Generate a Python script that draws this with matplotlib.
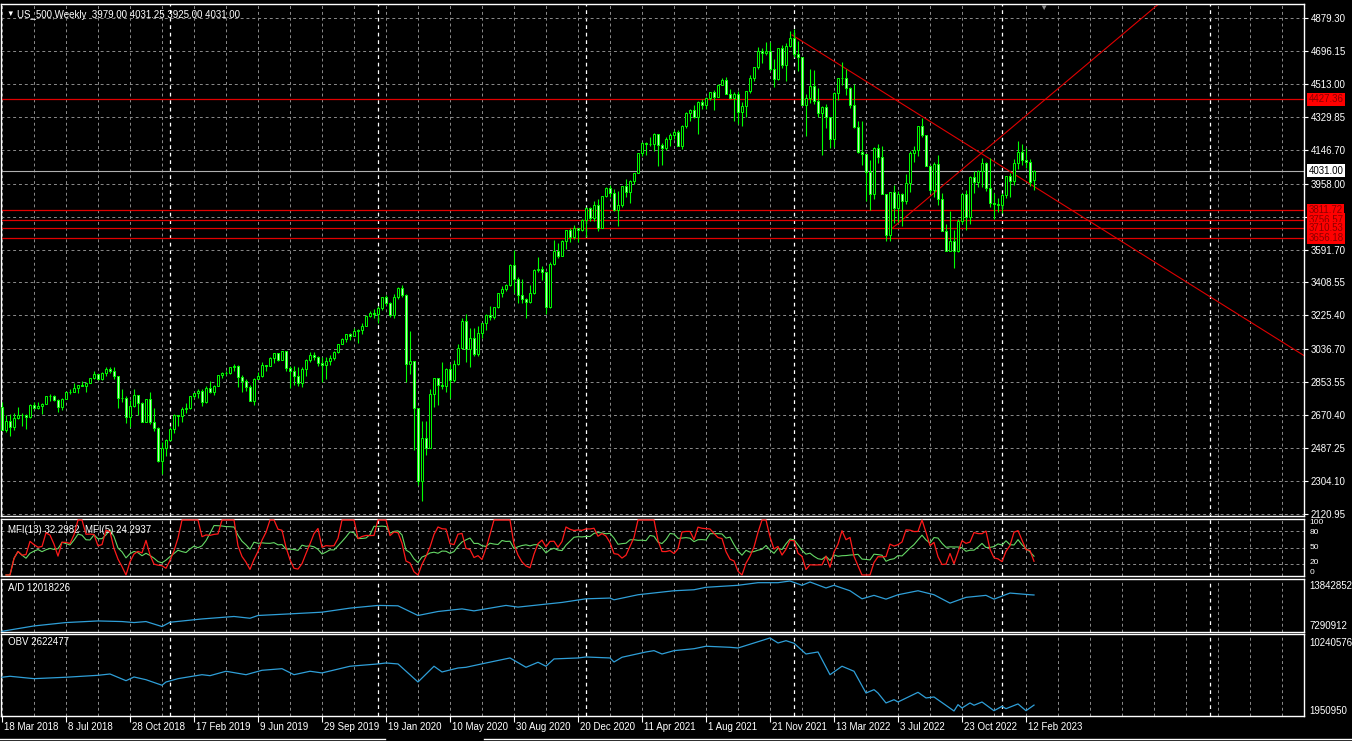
import matplotlib
matplotlib.use("Agg")
import matplotlib.pyplot as plt
import matplotlib.transforms as mtransforms
from matplotlib.lines import Line2D
import numpy as np

plt.rcParams['font.family'] = ['Liberation Sans', 'DejaVu Sans']

W, H = 1352, 741

# US_500 weekly bars, first bar = week of 18 Mar 2018, last = week of 26 Feb 2023
opens = [
    2716, 2590, 2641, 2604, 2656, 2670, 2670, 2663, 2728, 2713, 2721, 2735, 2779, 2780, 2755, 2718, 2760, 2801, 2802, 2819,
    2840, 2833, 2850, 2875, 2902, 2872, 2905, 2930, 2914, 2886, 2767, 2768, 2659, 2723, 2781, 2736, 2633, 2760, 2633, 2600, 2417,
    2486, 2532, 2596, 2671, 2665, 2707, 2708, 2776, 2793, 2804, 2743, 2822, 2800, 2834, 2893, 2907, 2905, 2940, 2946, 2881,
    2860, 2826, 2752, 2873, 2887, 2950, 2942, 2990, 3014, 2977, 3026, 2932, 2919, 2889, 2847, 2926, 2979, 3007, 2992, 2962,
    2952, 2970, 2986, 3023, 3067, 3093, 3120, 3110, 3141, 3146, 3169, 3221,
    3240, 3235, 3265, 3330, 3295, 3226, 3328, 3380, 3338, 2954, 2972, 2711, 2305, 2541, 2489, 2790, 2875, 2837, 2831, 2930,
    2864, 2955, 3044, 3194, 3041, 3098, 3009, 3130, 3185, 3225, 3216, 3271, 3351, 3373, 3397, 3508, 3427, 3341, 3319, 3298,
    3348, 3477, 3484, 3465, 3270, 3510, 3585, 3558, 3638, 3699, 3663, 3709, 3703,
    3756, 3825, 3768, 3841, 3714, 3887, 3934, 3907, 3811, 3842, 3943, 3913, 3975, 4020, 4129, 4185, 4180, 4181, 4233, 4174,
    4156, 4204, 4230, 4247, 4166, 4281, 4352, 4370, 4327, 4412, 4395, 4437, 4468, 4442, 4509, 4535, 4459, 4433, 4455, 4357,
    4391, 4471, 4545, 4605, 4697, 4683, 4698, 4595, 4538, 4712, 4620, 4726,
    4766, 4677, 4663, 4398, 4432, 4501, 4419, 4349, 4385, 4329, 4204, 4463, 4543, 4546, 4488, 4393, 4272, 4132, 4123, 4023,
    3901, 4158, 4109, 3901, 3675, 3912, 3825, 3899, 3863, 3962, 4130, 4145, 4280, 4228, 4058, 3924, 4067, 3873, 3693, 3586,
    3640, 3583, 3753, 3901, 3771, 3993, 3965, 4026, 4072, 3934, 3852, 3845,
    3840, 3895, 3999, 3973, 4071, 4136, 4090, 4079, 3979]
highs = [
    2742, 2674, 2676, 2680, 2718, 2683, 2677, 2733, 2743, 2742, 2737, 2780, 2790, 2782, 2760, 2764, 2804, 2816, 2848, 2841,
    2863, 2855, 2876, 2916, 2902, 2908, 2941, 2940, 2939, 2889, 2817, 2779, 2756, 2815, 2781, 2746, 2760, 2800, 2708, 2607, 2520,
    2539, 2605, 2675, 2672, 2716, 2738, 2780, 2795, 2817, 2816, 2831, 2860, 2838, 2894, 2910, 2918, 2940, 2955, 2947, 2892,
    2874, 2841, 2876, 2911, 2964, 2950, 2996, 3017, 3017, 3028, 3028, 2945, 2943, 2939, 2941, 2985, 3020, 3022, 3002, 2993,
    2993, 3003, 3027, 3067, 3098, 3121, 3127, 3155, 3150, 3183, 3226, 3248,
    3259, 3275, 3330, 3338, 3300, 3347, 3385, 3393, 3347, 3137, 2972, 2711, 2637, 2641, 2818, 2880, 2879, 2965, 2933, 2955,
    2980, 3068, 3212, 3233, 3155, 3154, 3165, 3183, 3233, 3280, 3272, 3352, 3387, 3399, 3509, 3588, 3437, 3429, 3320, 3394,
    3482, 3549, 3502, 3466, 3521, 3646, 3628, 3644, 3700, 3712, 3726, 3712, 3760,
    3827, 3826, 3861, 3870, 3889, 3937, 3950, 3928, 3915, 3944, 3983, 3978, 4020, 4130, 4191, 4192, 4218, 4238, 4236, 4185,
    4219, 4238, 4255, 4256, 4286, 4356, 4372, 4394, 4415, 4429, 4440, 4470, 4480, 4511, 4545, 4549, 4485, 4465, 4476, 4412,
    4475, 4560, 4608, 4718, 4714, 4743, 4744, 4652, 4713, 4731, 4740, 4808,
    4818, 4749, 4665, 4454, 4595, 4590, 4490, 4390, 4402, 4331, 4465, 4546, 4637, 4593, 4495, 4513, 4308, 4308, 4124, 4090,
    4160, 4177, 4168, 3901, 3913, 3951, 3918, 3904, 4013, 4140, 4167, 4281, 4325, 4230, 4062, 4076, 4119, 3907, 3736, 3807,
    3699, 3762, 3906, 3920, 4001, 4028, 4034, 4101, 4080, 4101, 3906, 3878,
    3906, 4003, 4016, 4094, 4195, 4176, 4156, 4096, 4031.25]
lows = [
    2586, 2578, 2553, 2586, 2650, 2612, 2594, 2655, 2703, 2707, 2676, 2734, 2752, 2749, 2691, 2699, 2760, 2790, 2800, 2795,
    2831, 2802, 2848, 2874, 2864, 2867, 2886, 2903, 2874, 2710, 2745, 2628, 2604, 2717, 2671, 2631, 2631, 2621, 2583, 2409, 2346,
    2443, 2525, 2570, 2613, 2631, 2681, 2704, 2764, 2767, 2723, 2741, 2795, 2785, 2834, 2880, 2896, 2897, 2914, 2825, 2801,
    2805, 2750, 2729, 2870, 2882, 2914, 2942, 2963, 2972, 2976, 2914, 2822, 2840, 2834, 2825, 2891, 2964, 2978, 2946, 2856,
    2874, 2952, 2979, 3014, 3066, 3078, 3090, 3109, 3070, 3123, 3166, 3215,
    3212, 3182, 3254, 3281, 3214, 3212, 3315, 3328, 2855, 2901, 2478, 2280, 2191, 2447, 2489, 2717, 2727, 2815, 2797, 2766,
    2853, 2948, 3036, 2965, 2936, 2999, 2999, 3101, 3142, 3199, 3204, 3264, 3329, 3361, 3388, 3350, 3294, 3292, 3209, 3297,
    3345, 3465, 3425, 3233, 3268, 3508, 3544, 3558, 3595, 3633, 3648, 3636, 3695,
    3662, 3750, 3749, 3694, 3712, 3884, 3884, 3805, 3723, 3830, 3886, 3853, 3955, 4020, 4114, 4119, 4165, 4141, 4057, 4062,
    4147, 4169, 4205, 4165, 4152, 4267, 4305, 4324, 4233, 4372, 4371, 4424, 4367, 4442, 4509, 4456, 4427, 4306, 4288, 4278,
    4329, 4460, 4530, 4595, 4630, 4672, 4585, 4495, 4532, 4600, 4531, 4720,
    4662, 4582, 4395, 4222, 4405, 4401, 4327, 4115, 4270, 4157, 4161, 4424, 4507, 4450, 4381, 4267, 4128, 4063, 3859, 3810,
    3875, 4073, 3900, 3637, 3640, 3739, 3743, 3721, 3843, 3911, 4080, 4113, 4218, 4057, 3907, 3886, 3838, 3693, 3585, 3584,
    3491, 3580, 3734, 3698, 3735, 3906, 3938, 3942, 3918, 3827, 3764, 3800,
    3795, 3877, 3885, 3949, 4037, 4060, 4047, 3943, 3925]
closes = [
    2588, 2641, 2604, 2656, 2670, 2670, 2663, 2728, 2713, 2721, 2735, 2779, 2780, 2755, 2718, 2760, 2801, 2802, 2819, 2840,
    2833, 2850, 2875, 2902, 2872, 2905, 2930, 2914, 2886, 2767, 2768, 2659, 2723, 2781, 2736, 2633, 2760, 2633, 2600, 2417, 2486,
    2532, 2596, 2671, 2665, 2707, 2708, 2776, 2793, 2804, 2743, 2822, 2800, 2834, 2893, 2907, 2905, 2940, 2946, 2881, 2860,
    2826, 2752, 2873, 2887, 2950, 2942, 2990, 3014, 2977, 3026, 2932, 2919, 2889, 2847, 2926, 2979, 3007, 2992, 2962, 2952,
    2970, 2986, 3023, 3067, 3093, 3120, 3110, 3141, 3146, 3169, 3221, 3240,
    3235, 3265, 3330, 3295, 3226, 3328, 3380, 3338, 2954, 2972, 2711, 2305, 2541, 2489, 2790, 2875, 2837, 2831, 2930, 2864,
    2955, 3044, 3194, 3041, 3098, 3009, 3130, 3185, 3225, 3216, 3271, 3351, 3373, 3397, 3508, 3427, 3341, 3319, 3298, 3348,
    3477, 3484, 3465, 3270, 3510, 3585, 3558, 3638, 3699, 3663, 3709, 3703, 3756,
    3825, 3768, 3841, 3714, 3887, 3934, 3907, 3811, 3842, 3943, 3913, 3975, 4020, 4129, 4185, 4180, 4181, 4233, 4174, 4156,
    4204, 4230, 4247, 4166, 4281, 4352, 4370, 4327, 4412, 4395, 4437, 4468, 4442, 4509, 4535, 4459, 4433, 4455, 4357, 4391,
    4471, 4545, 4605, 4697, 4683, 4698, 4595, 4538, 4712, 4620, 4726, 4766,
    4677, 4663, 4398, 4432, 4501, 4419, 4349, 4385, 4329, 4204, 4463, 4543, 4546, 4488, 4393, 4272, 4132, 4123, 4023, 3901,
    4158, 4109, 3901, 3675, 3912, 3825, 3899, 3863, 3962, 4130, 4145, 4280, 4228, 4058, 3924, 4067, 3873, 3693, 3586, 3640,
    3583, 3753, 3901, 3771, 3993, 3965, 4026, 4072, 3934, 3852, 3845, 3840,
    3895, 3999, 3973, 4071, 4136, 4090, 4079, 3970, 4031]

# date axis labels (bar index -> label)
date_weeks = [0, 16, 32, 48, 64, 80, 96, 112, 128, 144, 160, 176, 192, 208, 224, 240, 256]
date_labels = ["18 Mar 2018", "8 Jul 2018", "28 Oct 2018", "17 Feb 2019", "9 Jun 2019", "29 Sep 2019",
               "19 Jan 2020", "10 May 2020", "30 Aug 2020", "20 Dec 2020", "11 Apr 2021", "1 Aug 2021",
               "21 Nov 2021", "13 Mar 2022", "3 Jul 2022", "23 Oct 2022", "12 Feb 2023"]
year_starts = [42, 94, 146, 198, 250, 302]

price_ticks = [4879.30, 4696.15, 4513.00, 4329.85, 4146.70, 3958.00, 3774.85, 3591.70, 3408.55,
               3225.40, 3036.70, 2853.55, 2670.40, 2487.25, 2304.10, 2120.95]
price_tick_labels = ["4879.30", "4696.15", "4513.00", "4329.85", "4146.70", "3958.00", "", "3591.70", "3408.55",
                     "3225.40", "3036.70", "2853.55", "2670.40", "2487.25", "2304.10", "2120.95"]

red_levels = [4427.36, 3811.72, 3756.57, 3710.53, 3656.18]
bid_level = 4031.00

# drawn trend lines (bar index, price)
trend_down_x = [197.5, 325.5]
trend_down_y = [4785, 3002]
trend_up_x = [222, 300]
trend_up_y = [3700, 5160]

ad_weeks = [0, 8, 16, 24, 30, 33, 36, 40, 42, 50, 58, 62, 64, 72, 80, 87, 94, 99, 104, 109, 115, 118, 126, 129,
            136, 140, 146, 152, 153, 159, 168, 173, 176, 184, 189, 194, 197, 200, 202, 206, 208, 212, 215, 218,
            221, 224, 229, 233, 237, 241, 246, 248, 252, 257, 258]
ad_values = [7.29, 7.99, 8.43, 8.64, 8.56, 8.43, 8.56, 7.91, 8.47, 8.90, 9.22, 8.99, 9.35, 9.56, 9.78, 10.31,
             10.66, 10.61, 9.35, 9.87, 10.21, 9.95, 10.66, 10.44, 10.83, 11.05, 11.52, 11.62, 11.39, 12.05,
             12.57, 12.70, 13.02, 13.28, 13.62, 13.62, 13.84, 13.28, 13.71, 12.93, 13.28, 12.57, 11.52, 11.97,
             11.48, 12.05, 12.57, 12.05, 10.96, 11.71, 11.97, 11.48, 12.27, 12.05, 12.02]
obv_weeks = [0, 2, 8, 16, 24, 27, 31, 33, 36, 40, 41, 44, 50, 52, 56, 61, 65, 70, 73, 77, 80, 87, 94, 96, 99,
             104, 108, 110, 114, 116, 121, 127, 131, 134, 136, 138, 144, 146, 152, 153, 155, 161, 163, 165, 168,
             173, 176, 182, 184, 192, 194, 196, 198, 201, 204, 207, 210, 213, 216, 218, 219, 221, 223, 224, 229,
             231, 233, 238, 239, 240, 242, 243, 245, 248, 250, 251, 254, 256, 258]
obv_values = [5.78, 5.89, 5.62, 5.78, 6.00, 6.15, 5.39, 5.81, 5.50, 4.87, 5.24, 5.62, 6.07, 5.96, 6.46, 6.07,
              6.57, 6.75, 6.07, 6.46, 6.27, 7.03, 7.29, 7.40, 7.29, 5.24, 7.03, 6.38, 6.83, 6.91, 7.40, 7.97,
              6.91, 7.48, 7.03, 7.86, 7.97, 8.08, 7.97, 7.51, 8.05, 8.65, 8.80, 8.42, 8.80, 9.02, 9.30, 9.18,
              9.10, 10.24, 9.67, 9.93, 9.64, 8.42, 8.65, 6.07, 7.03, 6.46, 3.99, 4.37, 3.99, 2.86, 3.23, 2.97,
              4.07, 3.43, 3.54, 1.95, 2.67, 2.29, 2.86, 2.60, 2.97, 1.98, 2.48, 2.21, 2.75, 1.98, 2.62]

o = np.array(opens, float)
h = np.array(highs, float)
l = np.array(lows, float)
c = np.array(closes, float)
weeks = np.arange(len(c))

# money flow index, bar range standing in for tick volume
tp = (h + l + c) / 3
flow = tp * (h - l)
pos = np.where(np.diff(tp) > 0, flow[1:], 0.0)
neg = np.where(np.diff(tp) < 0, flow[1:], 0.0)


def mfi(n):
    out = []
    for i in range(len(pos)):
        p = pos[max(0, i - n + 1):i + 1].sum()
        q = neg[max(0, i - n + 1):i + 1].sum()
        out.append(100.0 if q == 0 else 100 * p / (p + q))
    return np.array(out)


LIME = '#00ff00'
GRID = '#8c8c8c'
XLIM = (-0.25, 325.5)

fig = plt.figure(figsize=(W / 100, H / 100), dpi=100, facecolor='black')


def panel(left, top, right, bottom):
    ax = fig.add_axes([left / W, 1 - bottom / H, (right - left) / W, (bottom - top) / H])
    ax.set_facecolor('black')
    for s in ax.spines.values():
        s.set_color('white')
        s.set_linewidth(1)
    ax.set_xlim(*XLIM)
    ax.tick_params(axis='x', bottom=False, labelbottom=False)
    ax.tick_params(axis='y', left=False, labelleft=False, right=True, labelright=True,
                   colors='white', length=3, labelsize=7, pad=2)
    for w in range(0, 326, 8):
        ax.axvline(w, color=GRID, lw=0.7, ls=(0, (3, 3)), zorder=0)
    for w in year_starts:
        ax.axvline(w, color='white', lw=0.9, ls=(0, (3, 3)), zorder=0.5)
    return ax


ax = panel(1, 4, 1304, 516)
ax_mfi = panel(1, 519, 1304, 576)
ax_ad = panel(1, 579, 1304, 632)
ax_obv = panel(1, 634, 1304, 716)

# ---- main price window
ax.set_ylim(2110, 4957)
ax.set_yticks(price_ticks)
ax.set_yticklabels(price_tick_labels)
ax.grid(axis='y', color=GRID, lw=0.7, ls=(0, (3, 3)), zorder=0)

for lv in red_levels:
    ax.axhline(lv, color='#e00000', lw=0.9, zorder=2)
ax.axhline(bid_level, color='#b0b0b0', lw=0.8, zorder=2)
ax.plot(trend_down_x, trend_down_y, color='#e00000', lw=0.8, zorder=2)
ax.plot(trend_up_x, trend_up_y, color='#e00000', lw=0.8, zorder=2)

up = c >= o
ax.vlines(weeks, l, h, color=LIME, lw=0.8, zorder=3)
ax.bar(weeks, np.abs(c - o), bottom=np.minimum(o, c), width=0.6,
       color=np.where(up, 'black', '#c8f5c8'), edgecolor=LIME, linewidth=0.7, zorder=4)

ylab = mtransforms.blended_transform_factory(ax.transAxes, ax.transData)
for lv in red_levels:
    ax.text(1.0035, lv, f"{lv:.2f}", transform=ylab, ha='left', va='center', fontsize=7,
            color='#8b0000', clip_on=False,
            bbox=dict(boxstyle='square,pad=0.15', facecolor='#ff0000', edgecolor='none'))
ax.text(1.0035, bid_level, f"{bid_level:.2f}", transform=ylab, ha='left', va='center', fontsize=7,
        color='black', clip_on=False,
        bbox=dict(boxstyle='square,pad=0.15', facecolor='white', edgecolor='none'))

ax.text(0.004, 0.979, "\u25bc", transform=ax.transAxes, fontsize=5.5, color='white', va='center')
ax.text(0.012, 0.979, "US_500,Weekly  3979.00 4031.25 3925.00 4031.00", transform=ax.transAxes,
        fontsize=7, color='white', va='center')
ax.text(0.8, 0.992, "\u25bc", transform=ax.transAxes, fontsize=6, color='#909090', va='center', ha='center')

# ---- MFI window
ax_mfi.set_ylim(-1.8, 101.8)
ax_mfi.set_yticks([])
for lv in [20, 50, 80]:
    ax_mfi.axhline(lv, color=GRID, lw=0.7, ls=(0, (3, 3)), zorder=0)
ax_mfi.plot(weeks[1:], mfi(13), color='#66d966', lw=0.8, zorder=3)
ax_mfi.plot(weeks[1:], mfi(5), color='#ff1a1a', lw=0.9, zorder=4)
tm = mtransforms.blended_transform_factory(ax_mfi.transAxes, ax_mfi.transData)
for txt, yv, va in [("100", 101.8, 'top'), ("80", 78, 'center'), ("50", 50, 'center'),
                    ("20", 22, 'center'), ("0", -1.8, 'bottom')]:
    ax_mfi.text(1.004, yv, txt, transform=tm, fontsize=6, color='white', va=va, ha='left', clip_on=False)
ax_mfi.text(0.005, 0.8, "MFI(13) 32.2982  MFI(5) 24.2937", transform=ax_mfi.transAxes,
            fontsize=7, color='white', va='center')

# ---- A/D window
ax_ad.set_ylim(7.2, 14.1)
ax_ad.set_yticks([])
ta = mtransforms.blended_transform_factory(ax_ad.transAxes, ax_ad.transData)
ax_ad.text(1.004, 13.842852, "13842852", transform=ta, fontsize=7, color='white', va='top', ha='left', clip_on=False)
ax_ad.text(1.004, 7.290912, "7290912", transform=ta, fontsize=7, color='white', va='bottom', ha='left', clip_on=False)
ax_ad.plot(ad_weeks, ad_values, color='#2f9fd8', lw=0.9, zorder=3)
ax_ad.text(0.005, 0.83, "A/D 12018226", transform=ax_ad.transAxes, fontsize=7, color='white', va='center')

# ---- OBV window
ax_obv.set_ylim(1.38, 10.69)
ax_obv.set_yticks([])
tob = mtransforms.blended_transform_factory(ax_obv.transAxes, ax_obv.transData)
ax_obv.text(1.004, 10.240576, "10240576", transform=tob, fontsize=7, color='white', va='top', ha='left', clip_on=False)
ax_obv.text(1.004, 1.950950, "1950950", transform=tob, fontsize=7, color='white', va='center', ha='left', clip_on=False)
ax_obv.plot(obv_weeks, obv_values, color='#2f9fd8', lw=0.9, zorder=3)
ax_obv.text(0.005, 0.9, "OBV 2622477", transform=ax_obv.transAxes, fontsize=7, color='white', va='center')

ax_obv.set_xticks(date_weeks)
ax_obv.tick_params(axis='x', bottom=True, labelbottom=False, length=4, color='white', direction='out')
td = mtransforms.offset_copy(mtransforms.blended_transform_factory(ax_obv.transData, ax_obv.transAxes),
                             fig=fig, x=1.5, units='points')
for w, lab in zip(date_weeks, date_labels):
    ax_obv.text(w, -0.135, lab, transform=td, fontsize=7, color='white', ha='left', va='center', clip_on=False)

# window tab strip along the bottom edge
for x0, x1 in [(0, 385), (484, 1352)]:
    fig.add_artist(Line2D([x0 / W, x1 / W], [1 - 738.5 / H, 1 - 738.5 / H], color='white', lw=1))

fig.savefig("out.png", dpi=100, facecolor='black')
